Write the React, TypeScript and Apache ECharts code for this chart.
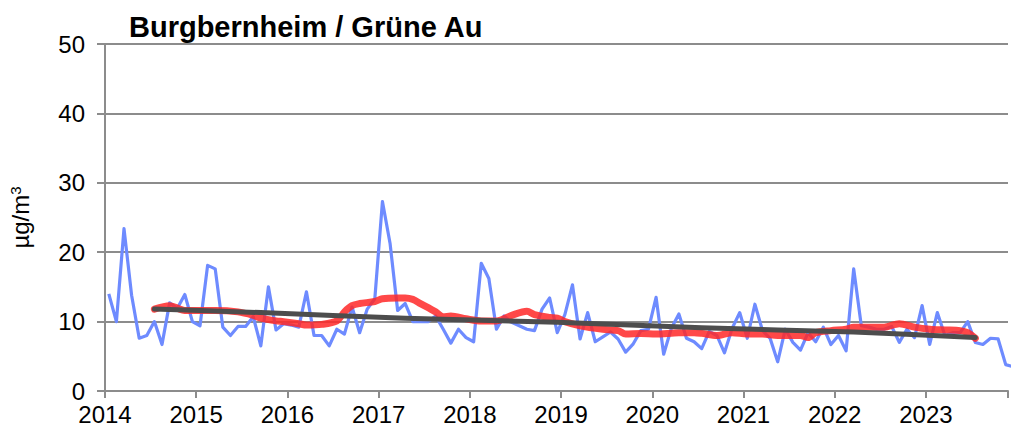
import React, { useEffect, useRef } from "react";
import * as echarts from "echarts";

const title = "Burgbernheim / Grüne Au";
const startYear = 2014;
const yTicks = [0, 10, 20, 30, 40, 50];

// Monthly values Jan 2014 .. Dec 2023
const monthly = [
  14.0, 10.0, 23.4, 13.8, 7.6, 8.0, 10.0, 6.7, 12.7, 11.9, 13.9, 10.0,
  9.4, 18.1, 17.6, 9.2, 8.0, 9.3, 9.3, 10.7, 6.5, 15.0, 8.8, 9.7,
  9.5, 9.2, 14.3, 8.0, 8.0, 6.5, 8.9, 8.2, 12.1, 8.4, 11.8, 13.3,
  27.3, 21.3, 11.6, 12.6, 10.0, 10.0, 10.0, 10.8, 8.9, 6.9, 8.9, 7.7,
  7.1, 18.4, 16.2, 8.9, 10.8, 9.9, 9.4, 8.9, 8.7, 11.8, 13.4, 8.4,
  11.0, 15.3, 7.5, 11.3, 7.1, 7.8, 8.5, 7.5, 5.6, 6.8, 8.7, 8.9,
  13.5, 5.3, 9.0, 11.1, 7.6, 7.1, 6.1, 8.6, 8.0, 5.5, 9.0, 11.3,
  7.6, 12.5, 8.7, 7.6, 4.2, 8.9, 7.0, 5.9, 8.4, 7.1, 9.2, 6.7,
  8.0, 5.8, 17.6, 9.4, 9.2, 8.9, 8.9, 9.3, 7.0, 8.9, 7.7, 12.3,
  6.7, 11.3, 8.0, 8.4, 8.4, 10.0, 7.0, 6.7, 7.6, 7.5, 3.8, 3.5,
];

// Moving average readings (month index from Jan 2014, value)
const avgMonths = [
  6, 8, 10, 14, 17, 19, 20, 22, 23, 25, 26, 28, 30, 31, 32, 33, 35, 36, 38, 39,
  40, 41, 43, 44, 45, 47, 49, 51, 53, 55, 56, 58, 59, 60, 62, 65, 67, 68, 70,
  72, 75, 77, 78, 80, 82, 84, 86, 88, 91, 92, 93, 95, 97, 98, 100, 102, 104,
  106, 108, 110, 112, 113, 114,
];
const avgValues = [
  11.8, 12.3, 11.6, 11.6, 11.4, 10.9, 10.5, 10.1, 10.0, 9.7, 9.5, 9.6, 10.1, 11.4, 12.3, 12.6, 12.9, 13.3, 13.4, 13.4,
  13.2, 12.6, 11.4, 10.7, 10.8, 10.4, 10.1, 10.1, 10.9, 11.5, 11.0, 10.6, 10.5, 10.0, 9.4, 8.9, 8.7, 8.2, 8.3,
  8.2, 8.4, 8.4, 8.3, 8.0, 8.4, 8.2, 8.2, 8.0, 8.0, 7.7, 8.4, 8.7, 8.9, 9.2, 9.2, 9.2, 9.7,
  9.2, 8.9, 8.8, 8.7, 8.4, 7.6,
];

// Trend line readings
const trendMonths = [6, 20, 39, 59, 78, 98, 114];
const trendValues = [11.8, 11.3, 10.5, 9.9, 9.1, 8.5, 7.7];

const toX = (m: number) => startYear + (m + 0.5) / 12;

export default function App() {
  const ref = useRef<HTMLDivElement>(null);
  useEffect(() => {
    if (!ref.current) return;
    const chart = echarts.init(ref.current, undefined, { renderer: "svg" });
    const font = "'Liberation Sans', Arial, sans-serif";
    const gray = "#8c8c8c";
    chart.setOption({
      animation: false,
      textStyle: { fontFamily: font },
      title: {
        text: title,
        left: 124,
        top: 7,
        textStyle: { fontFamily: font, fontSize: 29, fontWeight: "bold", color: "#000" },
      },
      grid: { left: 101, right: 0, top: 44, bottom: 49, containLabel: false },
      xAxis: {
        type: "value",
        min: startYear,
        max: 2023.9,
        interval: 1,
        axisLine: { show: true, lineStyle: { color: gray, width: 2 } },
        axisTick: { show: true, length: 7, lineStyle: { color: gray, width: 2 } },
        splitLine: { show: false },
        axisLabel: {
          color: "#000",
          fontSize: 24,
          fontFamily: font,
          margin: 11,
          formatter: (v: number) =>
            Math.abs(v - Math.round(v)) < 1e-6 ? String(Math.round(v)) : "",
        },
      },
      yAxis: {
        type: "value",
        min: yTicks[0],
        max: yTicks[yTicks.length - 1],
        interval: 10,
        name: "{a|µg/m}{s|3}",
        nameLocation: "middle",
        nameGap: 72,
        nameRotate: 90,
        nameTextStyle: {
          rich: {
            a: { fontSize: 24, fontFamily: font, color: "#000" },
            s: { fontSize: 15, fontFamily: font, color: "#000", verticalAlign: "top", padding: [0, 0, 10, 0] },
          },
        },
        axisLine: { show: true, lineStyle: { color: gray, width: 2 } },
        axisTick: { show: true, length: 8, lineStyle: { color: gray, width: 2 } },
        splitLine: { show: true, lineStyle: { color: gray, width: 2 } },
        axisLabel: { color: "#000", fontSize: 24, fontFamily: font, margin: 20 },
      },
      series: [
        {
          type: "line",
          data: monthly.map((v, i) => [toX(i), v]),
          showSymbol: false,
          lineStyle: { color: "#6e8bff", width: 3.2, join: "round" },
          z: 2,
        },
        {
          type: "line",
          data: avgMonths.map((m, i) => [toX(m), avgValues[i]]),
          showSymbol: false,
          smooth: 0.3,
          lineStyle: { color: "rgba(255,40,40,0.85)", width: 7, cap: "round", join: "round" },
          z: 3,
        },
        {
          type: "line",
          data: trendMonths.map((m, i) => [toX(m), trendValues[i]]),
          showSymbol: false,
          smooth: 0.3,
          lineStyle: { color: "#4d4d4d", width: 5, cap: "round", join: "round" },
          z: 4,
        },
      ],
    });
    return () => chart.dispose();
  }, []);
  return (
    <div
      ref={ref}
      style={{ position: "absolute", left: 0, top: 0, width: 1011, height: 440, background: "#fff" }}
    />
  );
}
